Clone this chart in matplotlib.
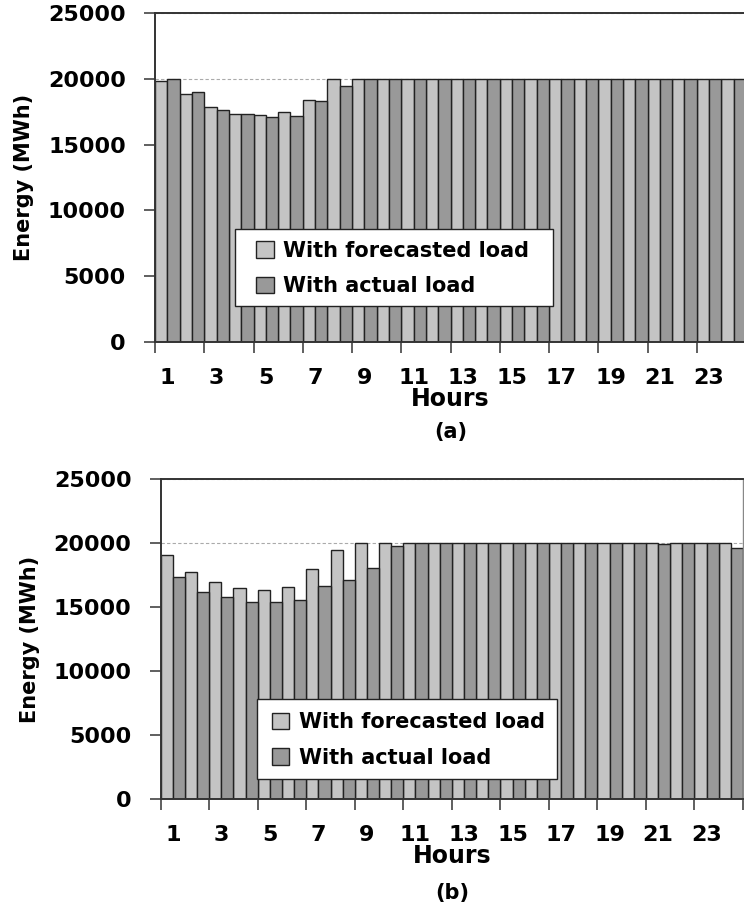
import numpy as np
import matplotlib
matplotlib.use("Agg")
import matplotlib.pyplot as plt
from matplotlib.patches import Rectangle

hours = np.arange(1, 25)
hour_labels = [str(h) for h in range(1, 24, 2)]

# (a) energy scheduled per hour, MWh
energy_a_forecast = [19850, 18860, 17820, 17340, 17240, 17440, 18380, 19950,
                     20000, 20000, 20000, 20000, 20000, 20000, 20000, 20000,
                     20000, 20000, 20000, 20000, 20000, 20000, 20000, 20000]
energy_a_actual = [19950, 18960, 17640, 17310, 17110, 17210, 18280, 19470,
                   20000, 20000, 20000, 20000, 20000, 20000, 20000, 20000,
                   20000, 20000, 20000, 20000, 20000, 20000, 20000, 20000]

# (b)
energy_b_forecast = [19090, 17760, 16950, 16460, 16300, 16560, 17940, 19430,
                     20000, 20000, 20000, 20000, 20000, 20000, 20000, 20000,
                     20000, 20000, 20000, 20000, 20000, 20000, 20000, 20000]
energy_b_actual = [17340, 16200, 15750, 15360, 15360, 15570, 16640, 17140,
                   18070, 19740, 20000, 20000, 20000, 20000, 20000, 20000,
                   20000, 20000, 20000, 20000, 19900, 20000, 20000, 19600]

series_names = ["With forecasted load", "With actual load"]

FONT = "DejaVu Sans"
C_FORE = "#c4c4c4"
C_ACT = "#999999"
EDGE = "#222222"

W, H = 744, 913


def px_axes(left, top, right, bottom):
    return [left / W, 1 - bottom / H, (right - left) / W, (bottom - top) / H]


def draw_panel(ax, forecast, actual, box, anchor, tag, tag_y):
    ax.set_axisbelow(True)
    ax.yaxis.grid(True, color="#aaaaaa", linestyle=(0, (3, 2)), linewidth=0.8)
    b1 = ax.bar(hours - 0.25, forecast, width=0.5, color=C_FORE,
                edgecolor=EDGE, linewidth=1.0, zorder=2)
    b2 = ax.bar(hours + 0.25, actual, width=0.5, color=C_ACT,
                edgecolor=EDGE, linewidth=1.0, zorder=2)

    ax.set_xlim(0.5, 24.5)
    ax.set_ylim(0, 25000)
    ax.set_yticks(range(0, 25001, 5000))
    ax.set_xticks(range(1, 24, 2))
    ax.set_xticklabels(hour_labels)
    ax.set_xticks(np.arange(0.5, 25, 2), minor=True)
    ax.tick_params(axis="x", which="major", length=0, pad=19,
                   labelsize=16)
    ax.tick_params(axis="x", which="minor", length=8, width=1.2,
                   color="#444444")
    ax.tick_params(axis="y", length=8, width=1.2, color="#444444",
                   pad=13, labelsize=16)
    for lab in ax.get_xticklabels() + ax.get_yticklabels():
        lab.set_fontweight("bold")
        lab.set_family(FONT)
    for sp in ax.spines.values():
        sp.set_linewidth(1.4)
        sp.set_color("#333333")

    ax.set_xlabel("Hours", fontsize=17, fontweight="bold", family=FONT,
                  labelpad=-1)
    ax.set_ylabel("Energy (MWh)", fontsize=15, fontweight="bold",
                  family=FONT, labelpad=10)
    ax.text(0.5, tag_y, tag, transform=ax.transAxes,
            ha="center", va="center", fontsize=15, fontweight="bold",
            family=FONT)

    # legend frame drawn as its own box
    x0, y0, x1, y1 = box
    ax.add_patch(Rectangle((x0, y0), x1 - x0, y1 - y0, transform=ax.transAxes,
                           facecolor="white", edgecolor="#222222",
                           linewidth=1.0, zorder=4))
    leg = ax.legend([b1, b2], series_names, loc="center left",
                    bbox_to_anchor=anchor, frameon=False, borderpad=0,
                    borderaxespad=0, handlelength=0.85, handleheight=0.85,
                    handletextpad=0.45, labelspacing=0.75,
                    prop={"family": FONT, "weight": "bold", "size": 15})
    leg.set_zorder(5)


fig = plt.figure(figsize=(W / 100, H / 100), dpi=100)

ax_a = fig.add_axes(px_axes(155, 13, 746, 342))
draw_panel(ax_a, energy_a_forecast, energy_a_actual,
           (0.135, 0.109, 0.673, 0.343), (0.171, 0.2234), "(a)", -0.273)
ax_a.spines["right"].set_visible(False)

ax_b = fig.add_axes(px_axes(160.7, 479, 743, 799))
draw_panel(ax_b, energy_b_forecast, energy_b_actual,
           (0.1654, 0.0625, 0.6807, 0.3125), (0.1906, 0.184), "(b)", -0.295)
ax_b.spines["right"].set_linewidth(1.0)
ax_b.spines["right"].set_color("#888888")

fig.savefig("out.png", dpi=100)
